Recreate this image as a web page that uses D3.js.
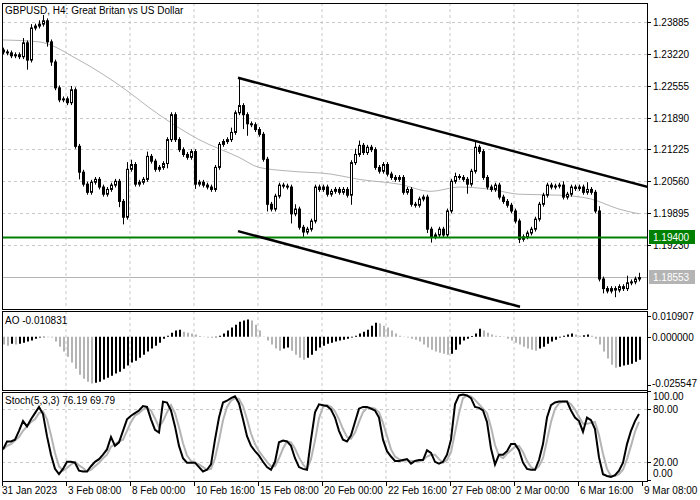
<!DOCTYPE html>
<html>
<head>
<meta charset="utf-8">
<script src="https://cdn.jsdelivr.net/npm/d3@7/dist/d3.min.js"></script>
<style>
body { margin: 0; background: #fff; }
text { font-family: "Liberation Sans", Arial, sans-serif; font-size: 10px; }
</style>
</head>
<body>
<svg id="chart" width="700" height="500"></svg>
<script>
// candles, H4, close prices per bar (open = previous close)
var firstOpen = 1.2330
var closes = [
 1.2326,1.2324,1.2318,1.2320,1.2316,1.2345,1.2309,1.2376,1.2380,1.2384,1.2391,1.2347,1.2305,1.2251,1.2226,1.2228,
 1.2220,1.2247,1.2129,1.2075,1.2050,1.2033,1.2054,1.2060,1.2044,1.2029,1.2039,1.2048,1.2056,1.2014,1.1981,1.2081,
 1.2091,1.2050,1.2054,1.2060,1.2108,1.2098,1.2081,1.2085,1.2093,1.2143,1.2195,1.2143,1.2122,1.2112,1.2106,1.2118,
 1.2050,1.2054,1.2048,1.2044,1.2039,1.2085,1.2133,1.2139,1.2143,1.2158,1.2199,1.2214,1.2195,1.2176,1.2174,1.2164,
 1.2154,1.2102,1.2008,1.1998,1.2025,1.2048,1.2046,1.2044,1.1988,1.1998,1.1960,1.1950,1.1956,1.1973,1.2044,1.2039,
 1.2044,1.2029,1.2035,1.2039,1.2033,1.2039,1.2027,1.2095,1.2112,1.2131,1.2116,1.2127,1.2122,1.2085,1.2077,1.2091,
 1.2071,1.2064,1.2060,1.2064,1.2033,1.2039,1.2008,1.2006,1.2019,1.2023,1.1956,1.1940,1.1944,1.1956,1.1944,1.1994,
 1.2056,1.2066,1.2064,1.2060,1.2050,1.2077,1.2127,1.2118,1.2064,1.2044,1.2039,1.2048,1.2023,1.2014,1.2006,1.1994,
 1.1973,1.1935,1.1940,1.1948,1.1956,1.1977,1.2008,1.2027,1.2048,1.2044,1.2046,1.2048,1.2023,1.2029,1.2044,1.2041,
 1.2044,1.2033,1.2039,1.2033,1.1994,1.1852,1.1832,1.1827,1.1832,1.1829,1.1836,1.1832,1.1844,1.1846,1.1852,1.1855
]
// wick lengths beyond the body, in pips (0.0001)
var hiWick = [
 5,5,5,5,5,10,5,8,5,8,12,5,5,5,5,5,
 5,8,5,5,5,5,5,5,5,5,5,5,5,5,5,15,
 10,5,5,5,10,5,5,5,5,5,5,5,5,5,5,5,
 5,5,5,5,5,5,5,5,5,10,5,56,5,5,5,5,
 5,5,5,5,5,5,5,5,5,10,5,5,5,5,5,5,
 5,5,5,5,5,5,5,5,12,10,5,5,5,5,5,5,
 5,5,5,5,5,5,5,5,5,5,5,5,5,5,5,5,
 5,8,5,5,5,5,12,5,5,5,5,5,5,5,5,5,
 5,5,5,5,5,5,5,5,5,5,5,5,8,5,5,5,
 5,5,15,5,5,10,5,5,5,5,5,5,15,5,5,10
]
var loWick = [
 5,5,5,5,5,5,20,5,5,5,5,10,8,5,5,5,
 5,5,5,15,5,5,5,5,5,5,5,5,5,12,15,5,
 5,5,5,5,5,5,5,5,5,10,5,5,5,5,5,5,
 10,5,5,5,5,5,5,5,5,5,5,5,30,25,5,5,
 5,5,15,5,5,5,5,5,20,5,5,10,5,5,5,5,
 5,5,5,5,5,5,5,20,5,5,5,5,5,5,5,5,
 5,5,5,5,5,5,5,5,5,5,8,12,5,5,5,5,
 5,5,5,5,20,5,5,5,5,5,5,5,5,5,5,5,
 5,8,5,5,5,5,5,5,5,5,5,5,5,5,5,5,
 5,5,5,5,5,5,10,5,5,15,5,5,5,5,5,5
]
// moving average (gray line), sampled bars
var maBars = [0,9,19,29,39,49,59,64,72,82,89,99,107,114,122,129,139,147,154,159]
var maVals = [1.2351,1.2347,1.2309,1.2257,1.2195,1.2143,1.2106,1.2085,1.2077,1.2071,1.2060,1.2050,1.2035,1.2044,1.2039,1.2029,1.2027,1.2019,1.1998,1.1988]

// trend channel lines [bar, price]
var upperLine = [[58.75, 1.2272], [161.25, 1.2044]]
var lowerLine = [[58.75, 1.1952], [129.25, 1.1794]]
var supportLevel = 1.19400
var lastPrice = 1.18553

var priceTicks = [1.23885, 1.23220, 1.22555, 1.21890, 1.21225, 1.20560, 1.19895, 1.19230]
var dateLabels = ["31 Jan 2023", "3 Feb 08:00", "8 Feb 00:00", "10 Feb 16:00", "15 Feb 08:00", "20 Feb 00:00",
                  "22 Feb 16:00", "27 Feb 08:00", "2 Mar 00:00", "6 Mar 16:00", "9 Mar 08:00"]

// Awesome Oscillator, units of 0.001
var ao = [
 -4.2,-4.8,-3.7,-4.2,-3.7,-3.2,-2.6,-2.1,-1.1,-0.5,-0.3,-0.3,-0.5,-2.6,-5.3,-7.9,
 -10.6,-13.7,-16.9,-20.1,-22.2,-23.8,-24.8,-24.3,-23.8,-22.7,-21.7,-20.6,-19.5,-18.5,-16.9,-15.3,
 -13.7,-12.7,-11.1,-9.5,-7.9,-6.3,-4.8,-3.2,-1.1,0.5,2.1,3.2,3.7,2.6,2.1,1.6,
 1.1,0.3,0.1,-0.5,-0.6,-0.3,0.5,1.6,3.2,4.8,6.3,7.9,8.5,9.0,8.5,6.3,
 3.2,0.1,-2.1,-4.2,-6.3,-7.4,-6.3,-5.8,-7.4,-9.5,-11.1,-12.2,-11.1,-9.5,-7.4,-5.8,
 -4.8,-3.7,-3.2,-2.6,-2.1,-1.6,-1.1,-0.5,0.5,1.6,2.6,3.7,5.8,7.4,6.9,5.8,
 4.8,3.2,1.6,0.5,0.1,-0.5,-1.1,-1.6,-2.6,-4.2,-5.8,-6.9,-7.9,-8.5,-9.0,-9.5,
 -9.0,-6.9,-4.2,-2.1,-1.1,0.3,1.6,4.2,3.2,2.1,1.1,0.5,0.3,0.1,-1.1,-2.1,
 -3.2,-4.2,-5.3,-6.3,-6.9,-7.4,-6.3,-5.3,-3.7,-2.6,-1.6,-0.5,0.5,1.1,1.6,1.1,
 0.5,0.8,1.1,0.5,-1.1,-4.2,-7.9,-11.6,-14.8,-16.4,-15.9,-15.3,-14.8,-14.3,-13.2,-12.2
]
var aoLabel = "AO -0.010831"
var aoTicks = [0.010907, 0.000000, -0.025547]

// Stochastic (5,3,3)
var stochMain = [
 34,43,43,45,55,66,60,68,75,82,74,49,28,12,6,12,
 20,20,19,10,9,9,15,20,23,28,34,48,38,42,55,68,
 72,75,78,83,82,68,56,53,88,87,78,60,38,24,19,19,
 19,14,9,11,17,45,70,87,89,92,94,86,68,49,38,32,
 27,20,14,11,20,42,44,43,38,24,14,12,11,45,76,85,
 84,83,79,70,55,45,43,50,65,80,82,82,80,78,70,45,
 32,26,21,21,22,23,18,21,22,22,33,30,20,18,20,28,
 45,85,95,96,95,92,82,81,78,65,35,17,28,28,32,40,
 40,33,19,12,11,11,22,40,70,84,87,88,88,88,78,70,
 66,54,70,67,57,25,6,4,3,5,10,19,40,55,66,74
]
var stochSignal = [
 34,38,40,44,48,55,60,65,68,75,77,68,50,30,15,10,
 13,17,20,16,13,9,11,15,19,24,28,37,40,43,45,55,
 65,72,75,79,81,78,69,59,66,76,84,75,59,41,27,21,
 19,17,14,11,12,24,44,67,82,89,92,91,83,68,52,40,
 32,26,20,15,15,24,35,43,42,35,25,17,12,23,44,69,
 82,84,82,77,68,57,48,46,53,65,76,81,81,80,76,64,
 49,34,26,23,21,22,21,21,20,22,26,28,28,23,19,22,
 31,53,75,92,95,94,90,85,80,75,59,39,27,24,29,33,
 37,38,31,21,14,11,15,24,44,65,80,86,88,88,85,79,
 71,63,63,64,65,50,29,12,4,4,6,11,23,38,54,65
]
var stochLabel = "Stoch(5,3,3) 76.19 69.79"
var stochTicks = [100, 80, 20, 0]

var svg = d3.select("#chart")
var left = 2, right = 647
var mainTop = 3, mainBot = 309
var aoTop = 311, aoBot = 390
var stTop = 392, stBot = 481
var gridColor = "#c8c8c8"
var grayColor = "#b4b4b4"

var x = d3.scaleLinear().domain([0, 159]).range([3, 639])
var y = d3.scaleLinear().domain([1.19230, 1.23885]).range([245, 22])
var yAo = d3.scaleLinear().domain([-25.547, 10.907]).range([385, 316])
var ySt = d3.scaleLinear().domain([0, 100]).range([479.5, 391])

var tickX = dateLabels.map(function(d, i){ return x(i * 16) - 1 })

function clip(id, top, bot){
    svg.append("clipPath").attr("id", id).append("rect")
       .attr("x", left).attr("y", top).attr("width", right - left).attr("height", bot - top)
}
clip("cMain", mainTop, mainBot)
clip("cAo", aoTop, aoBot)
clip("cSt", stTop, stBot)

// vertical grid in all panels
;[[mainTop, mainBot], [aoTop, aoBot], [stTop, stBot]].forEach(function(p){
    svg.append("g").selectAll("line").data(tickX.slice(1, -1)).enter().append("line")
       .attr("x1", d => d).attr("x2", d => d).attr("y1", p[0]).attr("y2", p[1])
       .attr("stroke", gridColor).attr("stroke-dasharray", "3,3")
})
// horizontal grid
svg.append("g").selectAll("line").data(priceTicks).enter().append("line")
   .attr("x1", left).attr("x2", right).attr("y1", d => Math.round(y(d)) + 0.5).attr("y2", d => Math.round(y(d)) + 0.5)
   .attr("stroke", gridColor).attr("stroke-dasharray", "3,3")
svg.append("g").selectAll("line").data([80, 20]).enter().append("line")
   .attr("x1", left).attr("x2", right).attr("y1", d => Math.round(ySt(d)) + 0.5).attr("y2", d => Math.round(ySt(d)) + 0.5)
   .attr("stroke", gridColor).attr("stroke-dasharray", "3,3")

// main panel
var gMain = svg.append("g").attr("clip-path", "url(#cMain)")

gMain.append("line").attr("x1", left).attr("x2", right)
     .attr("y1", Math.round(y(lastPrice)) + 0.5).attr("y2", Math.round(y(lastPrice)) + 0.5)
     .attr("stroke", grayColor)

gMain.append("path").datum(maBars.map((b, i) => [b, maVals[i]]))
     .attr("d", d3.line().x(d => x(d[0])).y(d => y(d[1])).curve(d3.curveMonotoneX))
     .attr("fill", "none").attr("stroke", grayColor)

var candles = closes.map(function(c, i){
    var o = i == 0 ? firstOpen : closes[i - 1]
    return {i: i, o: o, c: c,
            h: Math.max(o, c) + hiWick[i] / 10000,
            l: Math.min(o, c) - loWick[i] / 10000}
})
var cg = gMain.append("g").selectAll("g").data(candles).enter().append("g")
cg.append("line")
  .attr("x1", d => Math.round(x(d.i)) + 0.5).attr("x2", d => Math.round(x(d.i)) + 0.5)
  .attr("y1", d => y(d.h)).attr("y2", d => y(d.l)).attr("stroke", "#000")
cg.append("rect")
  .attr("x", d => Math.round(x(d.i)) - 0.5)
  .attr("y", d => y(Math.max(d.o, d.c)))
  .attr("width", 2)
  .attr("height", d => Math.max(1, Math.abs(y(d.o) - y(d.c))))
  .attr("fill", d => d.c >= d.o ? "#fff" : "#000").attr("stroke", "#000")

gMain.append("line").attr("x1", left).attr("x2", right)
     .attr("y1", Math.round(y(supportLevel)) + 0.5).attr("y2", Math.round(y(supportLevel)) + 0.5)
     .attr("stroke", "#008000").attr("stroke-width", 2)

;[upperLine, lowerLine].forEach(function(l){
    gMain.append("line")
         .attr("x1", x(l[0][0])).attr("y1", y(l[0][1])).attr("x2", x(l[1][0])).attr("y2", y(l[1][1]))
         .attr("stroke", "#000").attr("stroke-width", 2.5)
})

// AO panel
var gAo = svg.append("g").attr("clip-path", "url(#cAo)")
gAo.selectAll("line").data(ao).enter().append("line")
   .attr("x1", (d, i) => Math.round(x(i)) + 1).attr("x2", (d, i) => Math.round(x(i)) + 1)
   .attr("y1", yAo(0)).attr("y2", d => yAo(d))
   .attr("stroke-width", 2)
   .attr("stroke", (d, i) => (i > 0 && d > ao[i - 1]) ? "#000" : grayColor)

// Stochastic panel
var gSt = svg.append("g").attr("clip-path", "url(#cSt)")
var stLine = d3.line().x((d, i) => x(i)).y(d => ySt(d))
gSt.append("path").datum(stochSignal).attr("d", stLine)
   .attr("fill", "none").attr("stroke", grayColor).attr("stroke-width", 2)
gSt.append("path").datum(stochMain).attr("d", stLine)
   .attr("fill", "none").attr("stroke", "#000").attr("stroke-width", 2)

// frames
;[[mainTop, mainBot], [aoTop, aoBot], [stTop, stBot]].forEach(function(p){
    svg.append("rect").attr("x", left + 0.5).attr("y", p[0] + 0.5)
       .attr("width", right - left).attr("height", p[1] - p[0])
       .attr("fill", "none").attr("stroke", "#000")
})

// price axis
var pa = svg.append("g").selectAll("g").data(priceTicks).enter().append("g")
pa.append("line").attr("x1", right).attr("x2", right + 4)
  .attr("y1", d => Math.round(y(d)) + 0.5).attr("y2", d => Math.round(y(d)) + 0.5).attr("stroke", "#000")
pa.append("text").attr("x", right + 6).attr("y", d => y(d) + 4).text(d => d.toFixed(5))

function priceBox(v, color){
    var yy = Math.round(y(v))
    svg.append("rect").attr("x", right + 2).attr("y", yy - 7).attr("width", 46).attr("height", 14).attr("fill", color)
    svg.append("text").attr("x", right + 6).attr("y", yy + 4).attr("fill", "#fff").text(v.toFixed(5))
}
priceBox(supportLevel, "#008000")
priceBox(lastPrice, grayColor)

// AO axis
var aa = svg.append("g").selectAll("g").data(aoTicks).enter().append("g")
aa.append("line").attr("x1", right).attr("x2", right + 4)
  .attr("y1", d => Math.round(yAo(d * 1000)) + 0.5).attr("y2", d => Math.round(yAo(d * 1000)) + 0.5).attr("stroke", "#000")
aa.append("text").attr("x", right + 5).attr("y", d => d < 0 ? yAo(d * 1000) + 2 : yAo(d * 1000) + 4).text(d => d.toFixed(6))

// Stoch axis
var sa = svg.append("g").selectAll("g").data(stochTicks).enter().append("g")
sa.append("line").attr("x1", right).attr("x2", right + 4)
  .attr("y1", d => Math.round(ySt(d)) + 0.5).attr("y2", d => Math.round(ySt(d)) + 0.5).attr("stroke", "#000")
sa.append("text").attr("x", right + 6)
  .attr("y", d => d == 100 ? ySt(d) + 9 : d == 0 ? ySt(d) - 3 : ySt(d) + 4).text(d => d.toFixed(2))

// date axis
var da = svg.append("g").selectAll("g").data(dateLabels).enter().append("g")
da.append("line").attr("x1", (d, i) => Math.round(tickX[i]) + 0.5).attr("x2", (d, i) => Math.round(tickX[i]) + 0.5)
  .attr("y1", stBot).attr("y2", stBot + 5).attr("stroke", "#000")
da.append("text").attr("x", (d, i) => tickX[i] + (i == 0 ? 0 : 2)).attr("y", 494).text(d => d)

// titles
svg.append("text").attr("x", 5).attr("y", 14).text("GBPUSD, H4:  Great Britan vs US Dollar")
svg.append("text").attr("x", 5).attr("y", 324).text(aoLabel)
svg.append("text").attr("x", 5).attr("y", 404).text(stochLabel)
</script>
</body>
</html>
